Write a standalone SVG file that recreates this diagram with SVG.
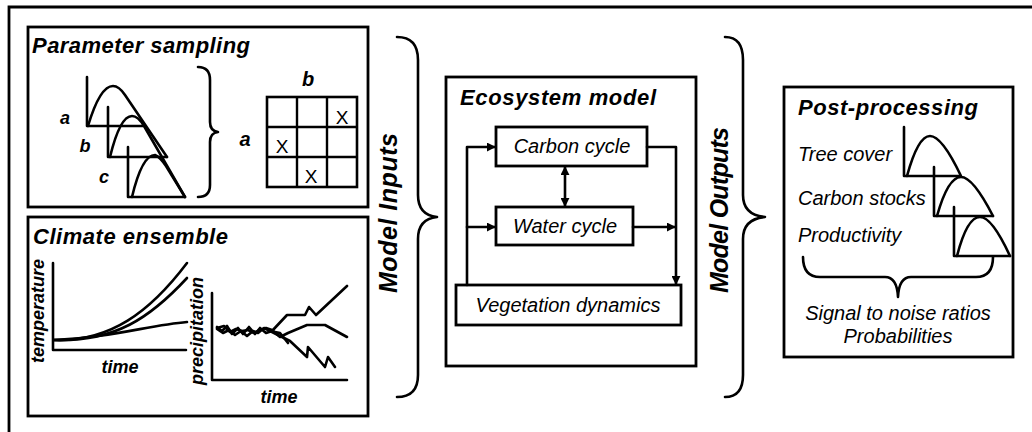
<svg xmlns="http://www.w3.org/2000/svg" width="1032" height="432" viewBox="0 0 1032 432">
<defs>
<marker id="ah" viewBox="0 0 10 10" refX="9" refY="5" markerWidth="9" markerHeight="9" markerUnits="userSpaceOnUse" orient="auto-start-reverse">
<path d="M0,0 L10,5 L0,10 z" fill="#000"/>
</marker>
<style>
.box{fill:#fff;stroke:#000;stroke-width:2.8}
.ln{fill:none;stroke:#000;stroke-width:2.6;stroke-linejoin:round;stroke-linecap:round}
.title{font-family:"Liberation Sans",Arial,sans-serif;font-size:22px;font-weight:bold;font-style:italic}
.lab{font-family:"Liberation Sans",Arial,sans-serif;font-size:20px;font-style:italic}
.ax{font-family:"Liberation Sans",Arial,sans-serif;font-size:18px;font-weight:bold;font-style:italic}
.big{font-family:"Liberation Sans",Arial,sans-serif;font-size:25px;font-weight:bold;font-style:italic}
.x{font-family:"Liberation Sans",Arial,sans-serif;font-size:19px}
</style>
</defs>
<rect width="1032" height="432" fill="#fff"/>
<path d="M9,440 V7 H1040" fill="none" stroke="#000" stroke-width="2.8"/>

<g id="parameter-sampling">
<rect class="box" x="28" y="27" width="340" height="180"/>
<text class="title" x="32" y="53" textLength="218">Parameter sampling</text>
<text class="ax" x="65" y="124" text-anchor="middle">a</text>
<text class="ax" x="85" y="152" text-anchor="middle">b</text>
<text class="ax" x="104" y="183" text-anchor="middle">c</text>
<path class="ln" d="M87,77 V126 H143"/>
<path class="ln" d="M88,126 Q100,86 113,86 Q119,86 125,95 L167,157"/>
<path class="ln" d="M108,107 V157 H167"/>
<path class="ln" d="M110,157 Q120,116 132,116 Q138,116 144,126 L185,197"/>
<path class="ln" d="M128,147 V197 H185"/>
<path class="ln" d="M132,197 Q142,155 155,155 Q160,157 166,166 L185,197"/>
<path class="ln" d="M198,67 Q210,67 210,80 L210,122 Q210,131 218,132 Q210,133 210,142 L210,185 Q210,197 198,197"/>
<text class="ax" x="308" y="86" text-anchor="middle" style="font-size:20px">b</text>
<text class="ax" x="245" y="146" text-anchor="middle" style="font-size:20px">a</text>
<rect x="267" y="97" width="90" height="90" fill="none" stroke="#000" stroke-width="2.6"/>
<path d="M297,97 V187 M327,97 V187 M267,127 H357 M267,157 H357" stroke="#000" stroke-width="2.4"/>
<text class="x" x="342" y="124" text-anchor="middle">X</text>
<text class="x" x="282" y="153" text-anchor="middle">X</text>
<text class="x" x="311" y="183" text-anchor="middle">X</text>
</g>

<g id="climate-ensemble">
<rect class="box" x="28" y="217" width="340" height="199"/>
<text class="title" x="33" y="244" textLength="195">Climate ensemble</text>
<path class="ln" d="M53,263 V350 H186"/>
<text class="ax" transform="translate(44,311) rotate(-90)" text-anchor="middle">temperature</text>
<text class="ax" x="120" y="373" text-anchor="middle">time</text>
<path class="ln" d="M54,340 C110,342 150,312 187,263"/>
<path class="ln" d="M54,340 C115,342 150,318 187,278"/>
<path class="ln" d="M54,340 C110,338 150,325 187,322"/>
<path class="ln" d="M212,293 V380 H347"/>
<text class="ax" transform="translate(203,331) rotate(-90)" text-anchor="middle">precipitation</text>
<text class="ax" x="279" y="403" text-anchor="middle">time</text>
<path class="ln" d="M217,327 L222,331 L227,326 L232,334 L238,328 L243,334 L249,327 L255,334 L260,328 L266,333 L272,331 L287,315 L305,315 L309,307 L316,315 L347,286"/>
<path class="ln" d="M217,328 L224,326 L230,332 L236,329 L242,331 L248,330 L254,333 L260,330 L266,328 L272,330 L280,337 L288,333 L307,325 L325,325 L347,337"/>
<path class="ln" d="M217,329 L223,333 L229,330 L235,335 L241,331 L247,336 L253,331 L258,333 L264,328 L270,331 L276,334 L290,341 L307,357 L308,347 L325,367 L328,357 L335,367"/>
<path class="ln" d="M270,331 L280,333 L288,343"/>
</g>

<g id="model-inputs">
<path class="ln" d="M397,37 Q418,37 418,60 L418,195 Q418,215 437,217 Q418,219 418,239 L418,375 Q418,397 397,397"/>
<text class="big" transform="translate(397,213) rotate(-90)" text-anchor="middle" textLength="160">Model Inputs</text>
</g>

<g id="ecosystem-model">
<rect class="box" x="446" y="77" width="250" height="289"/>
<text class="title" x="460" y="105" textLength="196">Ecosystem model</text>
</g>
<g id="carbon-cycle">
<rect class="box" x="496" y="127" width="151" height="39"/>
<text class="lab" x="572" y="153" text-anchor="middle">Carbon cycle</text>
</g>
<g id="water-cycle">
<rect class="box" x="496" y="207" width="137" height="38"/>
<text class="lab" x="565" y="233" text-anchor="middle">Water cycle</text>
</g>
<g id="vegetation-dynamics">
<rect class="box" x="456" y="285" width="225" height="40"/>
<text class="lab" x="568" y="312" text-anchor="middle">Vegetation dynamics</text>
</g>

<g id="connectors">
<path class="ln" d="M467,285 V147 H495" marker-end="url(#ah)"/>
<path class="ln" d="M467,227 H495" marker-end="url(#ah)"/>
<path class="ln" d="M647,147 H676 V284" marker-end="url(#ah)"/>
<path class="ln" d="M633,227 H675" marker-end="url(#ah)"/>
<path class="ln" d="M565,167 V206" marker-start="url(#ah)" marker-end="url(#ah)"/>
</g>

<g id="model-outputs">
<path class="ln" d="M725,37 Q743,37 743,60 L743,195 Q743,215 765,217 Q743,219 743,239 L743,375 Q743,397 725,397"/>
<text class="big" transform="translate(728,210) rotate(-90)" text-anchor="middle" textLength="166">Model Outputs</text>
</g>

<g id="post-processing">
<rect class="box" x="784" y="87" width="229" height="270"/>
<text class="title" x="798" y="115" textLength="180">Post-processing</text>
<text class="lab" x="798" y="161">Tree cover</text>
<text class="lab" x="798" y="205">Carbon stocks</text>
<text class="lab" x="798" y="242">Productivity</text>
<path class="ln" d="M904,127 V176 H960"/>
<path class="ln" d="M907,176 Q918,136 930,136 Q942,136 961,176"/>
<path class="ln" d="M934,167 V216 H993"/>
<path class="ln" d="M937,216 Q948,177 961,177 Q973,177 993,216"/>
<path class="ln" d="M954,207 V256 H1010"/>
<path class="ln" d="M957,256 Q967,217 980,217 Q992,217 1010,256"/>
<path class="ln" d="M803,257 Q803,277 820,277 L885,277 Q897,277 898,297 Q899,277 911,277 L976,277 Q993,277 993,257"/>
<text class="lab" x="898" y="320" text-anchor="middle">Signal to noise ratios</text>
<text class="lab" x="898" y="343" text-anchor="middle">Probabilities</text>
</g>
</svg>
